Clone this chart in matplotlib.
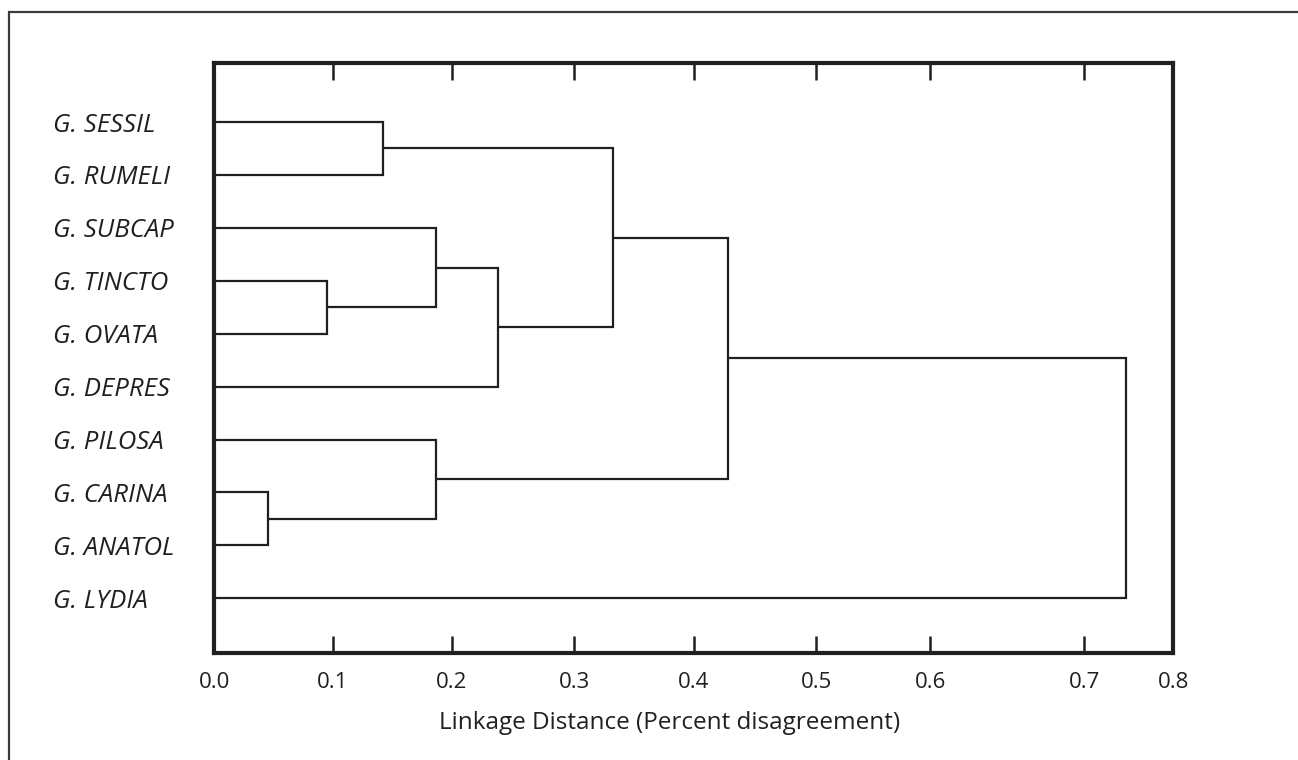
import numpy as np
import matplotlib
matplotlib.use("Agg")
import matplotlib.pyplot as plt
from matplotlib.lines import Line2D

# ---------------- data ----------------
species = ["G. SESSIL", "G. RUMELI", "G. SUBCAP", "G. TINCTO", "G. OVATA",
           "G. DEPRES", "G. PILOSA", "G. CARINA", "G. ANATOL", "G. LYDIA"]
# merges: (node_a, node_b, linkage distance); new nodes numbered from len(species)
merge_a = [0, 3, 2, 12, 10, 7, 6, 14, 17]
merge_b = [1, 4, 11, 5, 13, 8, 15, 16, 9]
merge_dist = [0.142, 0.095, 0.187, 0.238, 0.332, 0.045, 0.187, 0.428, 0.747]
tick_values = [0.0, 0.1, 0.2, 0.3, 0.4, 0.5, 0.6, 0.7, 0.8]
tick_labels = ["0.0", "0.1", "0.2", "0.3", "0.4", "0.5", "0.6", "0.7", "0.8"]
xlabel = "Linkage Distance (Percent disagreement)"

# hand-drawn (irregular) tick placement of the original axis, in pixels
tick_px = [214.3, 332.7, 452.0, 574.3, 693.7, 816.0, 930.3, 1084.3, 1173.3]

INK = "#231f20"
W, H = 1298, 760

fig = plt.figure(figsize=(W / 100, H / 100), dpi=100)
fig.patch.set_facecolor("white")

# outer frame (only top and left edges fall inside the picture)
fx, fy = 8.5 / W, 1 - 11.7 / H
fig.lines.append(Line2D([fx, fx, 1.0], [0.0, fy, fy], transform=fig.transFigure,
                        color="#3a3a3a", linewidth=1.6, solid_joinstyle="miter"))

ax = fig.add_axes([214.3 / W, 1 - 653.3 / H, (1173.3 - 214.3) / W, (653.3 - 63.3) / H])

# piecewise linear scale reproducing the irregular axis
sv = np.array([-1.0] + tick_values + [2.0])
p0 = np.array(tick_px) - tick_px[0]
sp = np.concatenate([[p0[0] - 1.0 * (p0[1] - p0[0]) / 0.1],
                     p0,
                     [p0[-1] + 1.2 * (p0[-1] - p0[-2]) / 0.1]])


def fwd(x):
    return np.interp(x, sv, sp)


def inv(p):
    return np.interp(p, sp, sv)


ax.set_xscale("function", functions=(fwd, inv))

# ---------------- dendrogram ----------------
n = len(species)
node_y = {i: float(i) for i in range(n)}
node_x = {i: 0.0 for i in range(n)}
lw = 1.6
for k, (a, b, d) in enumerate(zip(merge_a, merge_b, merge_dist)):
    ya, yb = node_y[a], node_y[b]
    xa, xb = node_x[a], node_x[b]
    ax.plot([xa, d, d, xb], [ya, ya, yb, yb], color=INK, lw=lw,
            solid_joinstyle="miter", solid_capstyle="butt", zorder=3)
    node_y[n + k] = (ya + yb) / 2
    node_x[n + k] = d

ax.set_xlim(0.0, 0.8)
step = (598.3 - 122.0) / (n - 1)
ax.set_ylim((653.3 - 122.0) / step, (63.3 - 122.0) / step)

# ---------------- axes styling ----------------
for s in ax.spines.values():
    s.set_linewidth(3.0)
    s.set_color(INK)

ax.set_xticks(tick_values)
ax.set_xticklabels(tick_labels)
ax.tick_params(axis="x", which="both", direction="in", length=12.2, width=1.8,
               color=INK, top=True, bottom=True, labeltop=False,
               labelsize=16, labelcolor=INK, pad=13.5)
ax.xaxis.set_minor_locator(matplotlib.ticker.NullLocator())
for t in ax.get_xticklabels():
    t.set_fontfamily("Open Sans")

ax.set_yticks(range(n))
ax.set_yticklabels(species)
ax.tick_params(axis="y", which="both", length=0, pad=(214.3 - 52.7) * 0.72,
               labelsize=18.5, labelcolor=INK)
ax.yaxis.set_minor_locator(matplotlib.ticker.NullLocator())
for t in ax.get_yticklabels():
    t.set_fontfamily("Open Sans")
    t.set_fontstyle("italic")
    t.set_horizontalalignment("left")

ax.set_xlabel(xlabel, fontsize=17.5, color=INK, fontfamily="Open Sans")
ax.xaxis.set_label_coords((670 - 214.3) / (1173.3 - 214.3), (653.3 - 723) / (653.3 - 63.3))
ax.xaxis.label.set_verticalalignment("center")

fig.savefig("out.png", dpi=100, facecolor="white")
